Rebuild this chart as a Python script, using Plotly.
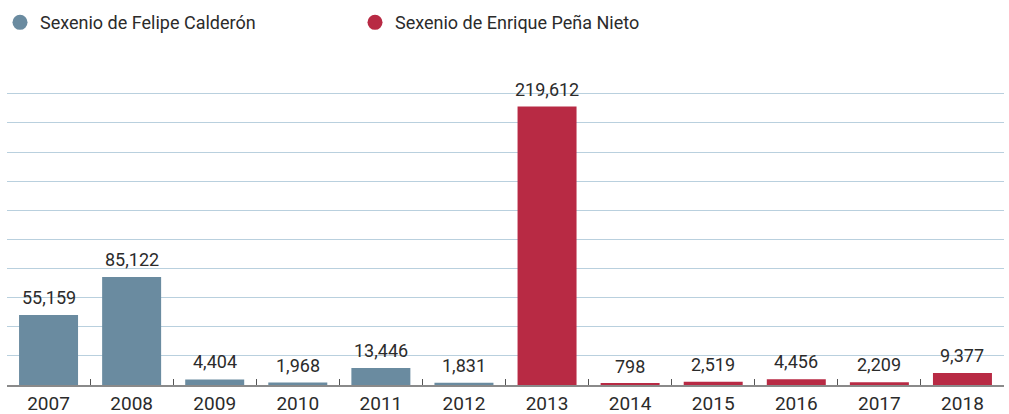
import plotly.graph_objects as go

years = ["2007", "2008", "2009", "2010", "2011", "2012",
         "2013", "2014", "2015", "2016", "2017", "2018"]
values = [55159, 85122, 4404, 1968, 13446, 1831,
          219612, 798, 2519, 4456, 2209, 9377]
periods = ["Sexenio de Felipe Calderón"] * 6 + ["Sexenio de Enrique Peña Nieto"] * 6
series_names = ["Sexenio de Felipe Calderón", "Sexenio de Enrique Peña Nieto"]
series_colors = ["#6a8ba0", "#b82a44"]

FONT = "Roboto"
TEXT = "#2b2b2b"
fig = go.Figure()

for name, color in zip(series_names, series_colors):
    xs = [y for y, p in zip(years, periods) if p == name]
    vs = [v for v, p in zip(values, periods) if p == name]
    fig.add_trace(go.Bar(
        x=xs, y=vs, name=name, marker=dict(color=color, line=dict(width=0)),
        showlegend=False,
    ))
    fig.add_trace(go.Scatter(
        x=[None], y=[None], mode="markers", name=name,
        marker=dict(color=color, size=15, symbol="circle"),
        showlegend=True,
    ))

# value labels: x given as category index so numeric-looking names are not misread
for i, v in enumerate(values):
    fig.add_annotation(x=i, y=v, text=f"{v:,}", showarrow=False,
                       yanchor="bottom", yshift=5,
                       font=dict(family=FONT, size=18, color=TEXT))

fig.update_layout(
    width=1009, height=414,
    margin=dict(l=7, r=5, t=68, b=29),
    paper_bgcolor="white", plot_bgcolor="white",
    bargap=0.29,
    font=dict(family=FONT, color=TEXT),
    legend=dict(orientation="h", xref="container", x=-0.003, yref="container", y=0.99,
                xanchor="left", yanchor="top",
                entrywidth=310, entrywidthmode="pixels",
                font=dict(family=FONT, size=18, color=TEXT),
                itemwidth=30, tracegroupgap=0),
    xaxis=dict(type="category", categoryorder="array", categoryarray=years,
               range=[-0.5, len(years) - 0.5],
               showgrid=False, showline=True, linecolor="#8a8a8a", linewidth=1.5,
               ticks="inside", ticklen=6, tickcolor="#555555", tickson="boundaries",
               tickfont=dict(family=FONT, size=19, color=TEXT),
               automargin=False),
    yaxis=dict(range=[0, 250000], dtick=22960, showgrid=True, gridcolor="#b9d0de",
               gridwidth=1, zeroline=False, showticklabels=False, automargin=False),
)

fig.write_html("out.html", config={"displayModeBar": False},
               post_script="document.body.style.margin='0';document.body.style.overflow='hidden';")
